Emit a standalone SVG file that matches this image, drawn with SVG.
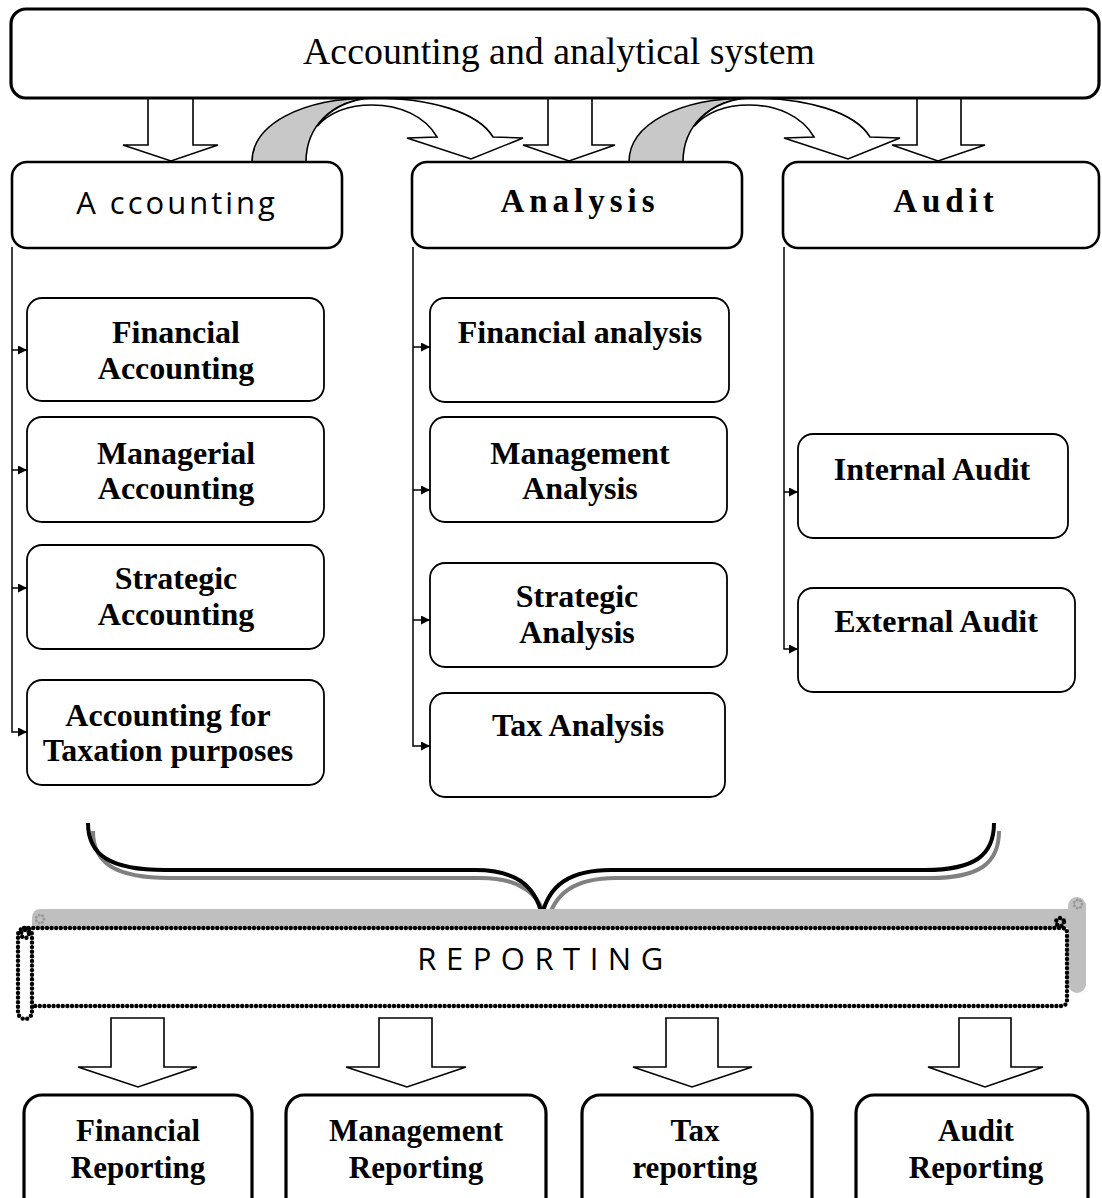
<svg xmlns="http://www.w3.org/2000/svg" width="1102" height="1198" viewBox="0 0 1102 1198">
<style>
.box{fill:#fff;stroke:#000;stroke-width:1.8}
.hbox{fill:#fff;stroke:#000;stroke-width:2.6}
.tbox{fill:#fff;stroke:#000;stroke-width:3.2}
.sb{font-family:"Liberation Serif","Times New Roman",serif;font-weight:bold;font-size:32px;text-anchor:middle;fill:#000}
.sb2{font-family:"Liberation Serif","Times New Roman",serif;font-weight:bold;font-size:31px;text-anchor:middle;fill:#000}
.hs{font-family:"Liberation Serif","Times New Roman",serif;font-weight:bold;font-size:33px;letter-spacing:5px;text-anchor:middle;fill:#000}
.ss{font-family:"Open Sans","Liberation Sans",sans-serif;font-size:31px;text-anchor:middle;fill:#000}
.blk{fill:#fff;stroke:#000;stroke-width:1.6;stroke-linejoin:miter}
.con{fill:none;stroke:#000;stroke-width:1.5}
.dot{fill:none;stroke:#000;stroke-width:4.4;stroke-dasharray:0 4.6;stroke-linecap:round}
.gdot{fill:none;stroke:#9a9a9a;stroke-width:3;stroke-dasharray:0 3.5;stroke-linecap:round}
</style>
<defs>
<marker id="ah" viewBox="0 0 10 10" refX="10" refY="5" markerWidth="10" markerHeight="9" markerUnits="userSpaceOnUse" orient="auto">
<path d="M0,0 L10,5 L0,10 Z" fill="#000"/>
</marker>
<g id="curvedArrow">
<path d="M252,162 C252,125 300,98 373,98 C330,100 306,128 306,162 Z" fill="#c8c8c8" stroke="#000" stroke-width="1.6"/>
<path d="M317.2,126.2 C328.2,110.5 347.2,99.2 373,98 C430,98 478,112 493,137 L523,138 L471,159 L407,138 L437,137 C425,116 400,105 372,105 C350,105 330,112 317.2,126.2 Z" fill="#fff" stroke="#000" stroke-width="1.6" stroke-linejoin="miter"/>
</g>
</defs>
<rect width="1102" height="1198" fill="#fff"/>

<!-- connectors -->
<g id="connectors">
<path class="blk" d="M148,98 V145 H123 L171,161 L218,145 H193 V98"/>
<path class="blk" d="M548,98 V145 H523 L569,161 L615,145 H592 V98"/>
<path class="blk" d="M917,98 V145 H892 L938,161 L985,145 H961 V98"/>
<use href="#curvedArrow"/>
<use href="#curvedArrow" transform="translate(377,0)"/>

<path class="con" d="M12,247 V732 H27" marker-end="url(#ah)"/>
<path class="con" d="M12,350 H27" marker-end="url(#ah)"/>
<path class="con" d="M12,470 H27" marker-end="url(#ah)"/>
<path class="con" d="M12,588 H27" marker-end="url(#ah)"/>

<path class="con" d="M413,247 V746 H430" marker-end="url(#ah)"/>
<path class="con" d="M413,347 H430" marker-end="url(#ah)"/>
<path class="con" d="M413,490 H430" marker-end="url(#ah)"/>
<path class="con" d="M413,620 H430" marker-end="url(#ah)"/>

<path class="con" d="M784,247 V649 H798" marker-end="url(#ah)"/>
<path class="con" d="M784,492 H798" marker-end="url(#ah)"/>

<!-- brace -->
<path d="M93,831 C93,863 115,878 170,878 L480,878 C520,878 540,893 547,923 C554,893 575,878 616,878 L930,878 C980,878 999,863 999,831" fill="none" stroke="#808080" stroke-width="4"/>
<path d="M88,823 C88,855 110,870 165,870 L475,870 C515,870 535,885 542,915 C549,885 570,870 611,870 L925,870 C975,870 994,855 994,823" fill="none" stroke="#000" stroke-width="4"/>

<path class="blk" d="M111,1018 V1067 H78 L138,1087 L197,1067 H164 V1018 Z" stroke-width="2.2"/>
<path class="blk" d="M379,1018 V1067 H346 L407,1087 L466,1067 H432 V1018 Z" stroke-width="2.2"/>
<path class="blk" d="M666,1018 V1067 H633 L692,1087 L752,1067 H718 V1018 Z" stroke-width="2.2"/>
<path class="blk" d="M959,1018 V1067 H928 L985,1087 L1043,1067 H1011 V1018 Z" stroke-width="2.2"/>
</g>

<!-- top node -->
<g id="node-system">
<rect class="tbox" x="11" y="9" width="1088" height="89" rx="15"/>
<text x="559" y="64" font-family="'Liberation Serif','Times New Roman',serif" font-size="37" text-anchor="middle" textLength="512" lengthAdjust="spacingAndGlyphs" fill="#000">Accounting and analytical system</text>
</g>

<g id="node-accounting">
<rect class="hbox" x="12" y="162" width="330" height="86" rx="15"/>
<text class="ss" x="177" y="214" letter-spacing="3">A ccounting</text>
</g>
<g id="node-analysis">
<rect class="hbox" x="412" y="162" width="330" height="86" rx="15"/>
<text class="hs" x="580" y="212">Analysis</text>
</g>
<g id="node-audit">
<rect class="hbox" x="783" y="162" width="316" height="86" rx="15"/>
<text class="hs" x="946" y="212">Audit</text>
</g>

<g id="node-fin-acc">
<rect class="box" x="27" y="298" width="297" height="103" rx="15"/>
<text class="sb" x="176" y="343">Financial</text>
<text class="sb" x="176" y="379">Accounting</text>
</g>
<g id="node-man-acc">
<rect class="box" x="27" y="417" width="297" height="105" rx="15"/>
<text class="sb" x="176" y="464">Managerial</text>
<text class="sb" x="176" y="499">Accounting</text>
</g>
<g id="node-str-acc">
<rect class="box" x="27" y="545" width="297" height="104" rx="15"/>
<text class="sb" x="176" y="589">Strategic</text>
<text class="sb" x="176" y="625">Accounting</text>
</g>
<g id="node-tax-acc">
<rect class="box" x="27" y="680" width="297" height="105" rx="15"/>
<text class="sb" x="168" y="726">Accounting for</text>
<text class="sb" x="168" y="761">Taxation purposes</text>
</g>

<g id="node-fin-an">
<rect class="box" x="430" y="298" width="299" height="104" rx="15"/>
<text class="sb" x="580" y="343">Financial analysis</text>
</g>
<g id="node-man-an">
<rect class="box" x="430" y="417" width="297" height="105" rx="15"/>
<text class="sb" x="580" y="464">Management</text>
<text class="sb" x="580" y="499">Analysis</text>
</g>
<g id="node-str-an">
<rect class="box" x="430" y="563" width="297" height="104" rx="15"/>
<text class="sb" x="577" y="607">Strategic</text>
<text class="sb" x="577" y="643">Analysis</text>
</g>
<g id="node-tax-an">
<rect class="box" x="430" y="693" width="295" height="104" rx="15"/>
<text class="sb" x="578" y="736">Tax Analysis</text>
</g>

<g id="node-int-aud">
<rect class="box" x="798" y="434" width="270" height="104" rx="15"/>
<text class="sb" x="932" y="480">Internal Audit</text>
</g>
<g id="node-ext-aud">
<rect class="box" x="798" y="588" width="277" height="104" rx="15"/>
<text class="sb" x="936" y="632">External Audit</text>
</g>

<!-- reporting scroll -->
<g id="node-reporting">
<path d="M32,928 V918 Q32,909 41,909 H1072 V928 Z" fill="#bfbfbf"/>
<rect x="1068" y="897" width="18" height="96" rx="9" fill="#bfbfbf"/>
<circle class="gdot" cx="40" cy="919" r="4"/>
<circle class="gdot" cx="1078" cy="904" r="4"/>
<rect x="22" y="928" width="1045" height="78" fill="#fff"/>
<path class="dot" d="M24,928 H1062 Q1067,928 1067,933 V1000 Q1067,1006 1061,1006 H33"/>
<rect class="dot" x="18" y="928" width="14" height="91" rx="7"/>
<circle class="dot" cx="25" cy="934" r="4"/>
<circle class="dot" cx="1060" cy="922" r="4"/>
<text class="ss" x="545" y="970" letter-spacing="9.5">REPORTING</text>
</g>

<g id="node-fin-rep">
<rect class="tbox" x="24" y="1095" width="228" height="125" rx="18"/>
<text class="sb2" x="138" y="1141">Financial</text>
<text class="sb2" x="138" y="1178">Reporting</text>
</g>
<g id="node-man-rep">
<rect class="tbox" x="286" y="1095" width="260" height="125" rx="18"/>
<text class="sb2" x="416" y="1141">Management</text>
<text class="sb2" x="416" y="1178">Reporting</text>
</g>
<g id="node-tax-rep">
<rect class="tbox" x="582" y="1095" width="230" height="125" rx="18"/>
<text class="sb2" x="695" y="1141">Tax</text>
<text class="sb2" x="695" y="1178">reporting</text>
</g>
<g id="node-aud-rep">
<rect class="tbox" x="856" y="1095" width="232" height="125" rx="18"/>
<text class="sb2" x="976" y="1141">Audit</text>
<text class="sb2" x="976" y="1178">Reporting</text>
</g>
</svg>
